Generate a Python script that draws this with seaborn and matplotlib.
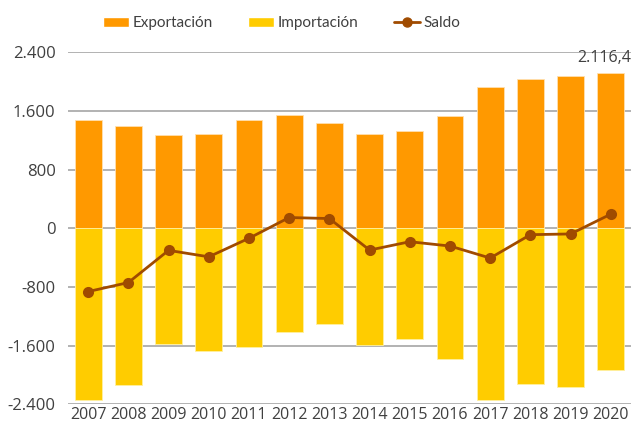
import pandas as pd
import seaborn as sns
import matplotlib.pyplot as plt
from matplotlib.patches import Patch
from matplotlib.lines import Line2D
from matplotlib.ticker import FuncFormatter

# data
years = ['2007', '2008', '2009', '2010', '2011', '2012', '2013',
         '2014', '2015', '2016', '2017', '2018', '2019', '2020']
exportacion = [1472, 1399, 1270, 1284, 1472, 1545, 1431,
               1289, 1325, 1531, 1925, 2038, 2075, 2116.4]
importacion = [-2342, -2140, -1583, -1679, -1624, -1409, -1303,
               -1587, -1514, -1784, -2342, -2131, -2159, -1940]
saldo = [-864, -741, -302, -390, -137, 146, 132,
         -298, -184, -243, -407, -88, -78, 192]

c_exp = '#FF9900'
c_imp = '#FFCC00'
c_sal = '#A04B00'
txt = '#404040'

sns.set_style('white')
plt.rcParams['font.family'] = ['Open Sans', 'DejaVu Sans']

df = pd.DataFrame({'year': years, 'exp': exportacion, 'imp': importacion, 'saldo': saldo})

fig = plt.figure(figsize=(6.36, 4.25), dpi=100)
ax = fig.add_axes([0.107, 0.049, 0.885, 0.828])

sns.barplot(data=df, x='year', y='exp', color=c_exp, width=0.667, saturation=1,
            edgecolor='#FFE0B0', linewidth=0.6, ax=ax, zorder=2)
sns.barplot(data=df, x='year', y='imp', color=c_imp, width=0.667, saturation=1,
            edgecolor='#FFF0A0', linewidth=0.6, ax=ax, zorder=2)
sns.pointplot(data=df, x='year', y='saldo', color=c_sal, markers='o',
              markersize=6.5, linewidth=2, ax=ax, zorder=4)

ax.set_ylim(-2400, 2400)
ax.set_yticks(range(-2400, 2401, 800))
ax.yaxis.set_major_formatter(FuncFormatter(lambda v, p: f'{v:,.0f}'.replace(',', '.')))
ax.set_xlim(-0.5, len(years) - 0.5)
ax.grid(axis='y', color='#A6A6A6', linewidth=1.2, zorder=0)
ax.set_axisbelow(True)
for s in ax.spines.values():
    s.set_visible(False)
ax.set_xlabel('')
ax.set_ylabel('')
ax.tick_params(axis='both', length=0, labelsize=12, labelcolor=txt)
ax.tick_params(axis='x', labelsize=11.5, pad=2)
ax.tick_params(axis='y', pad=9)

# value label on last export bar
ax.annotate(f'{exportacion[-1]:,.1f}'.replace(',', 'X').replace('.', ',').replace('X', '.'),
            xy=(len(years) - 1, exportacion[-1]), xytext=(-5, 5), textcoords='offset points',
            ha='center', va='bottom', fontsize=11.5, color=txt)

handles = [Patch(facecolor=c_exp, label='Exportación'),
           Patch(facecolor=c_imp, label='Importación'),
           Line2D([0], [0], color=c_sal, lw=2, marker='o', markersize=6.5, label='Saldo')]
fig.legend(handles=handles, loc='center', bbox_to_anchor=(0.443, 0.945), ncol=3,
           frameon=False, prop={'family': 'Lato', 'size': 11}, labelcolor=txt,
           handlelength=1.7, handleheight=0.55, handletextpad=0.25, columnspacing=2.3)

fig.savefig('out.png', dpi=100)
